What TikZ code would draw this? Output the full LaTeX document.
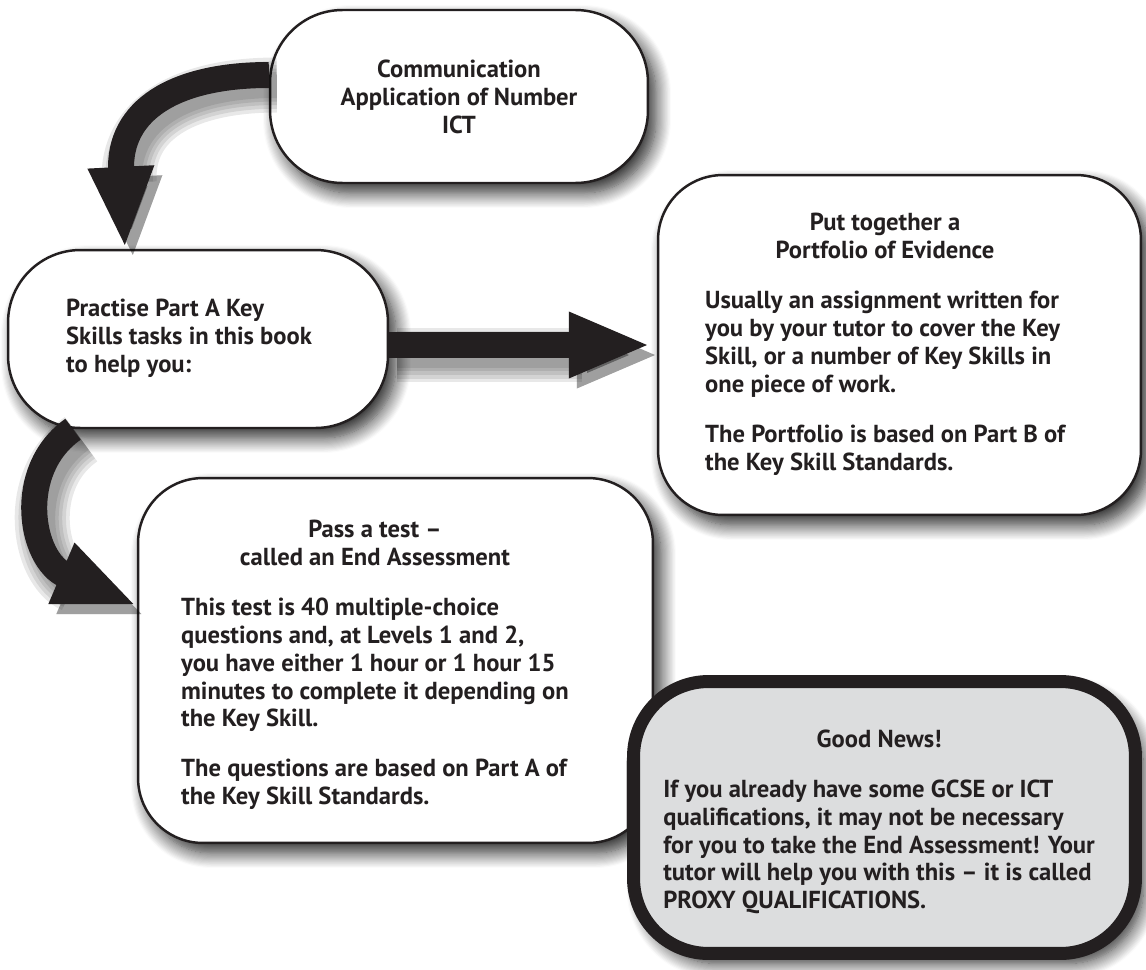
\documentclass[tikz,border=0pt]{standalone}
\usepackage{fontspec}
\setmainfont{PT Sans}
\usetikzlibrary{arrows.meta,shadows.blur}

\definecolor{ink}{HTML}{231F20}
\definecolor{newsgray}{HTML}{DCDDDE}

\newcommand{\headline}[1]{\multicolumn{1}{@{}c@{}}{#1}}

\tikzset{
  box/.style={draw=ink, line width=1.4pt, fill=white, rounded corners=1.3cm,
    blur shadow={shadow xshift=0.16cm, shadow yshift=-0.2cm,
      shadow blur radius=0.3cm, shadow opacity=85, shadow blur steps=14}},
  newsbox/.style={box, fill=newsgray, line width=0.26cm, rounded corners=1.5cm},
  txt/.style={font=\fontsize{14}{15.9}\selectfont\bfseries, text=ink, inner sep=0pt},
  fatshade/.style={preaction={draw=black, opacity=0.09, line width=#1,
      transform canvas={shift={(0.16cm,-0.2cm)}}}},
  fatarrow/.style={draw=ink, line width=0.52cm, -{Triangle[width=1.2cm,length=1.64cm]},
    fatshade=1.1cm, fatshade=0.95cm, fatshade=0.8cm, fatshade=0.66cm, fatshade=0.52cm}
}

\begin{document}
\begin{tikzpicture}[x=0.02cm, y=-0.02cm]
  \useasboundingbox (0,0) rectangle (1146,970);

  % the boxes
  \node[box, minimum width=7.56cm, minimum height=3.46cm, rounded corners=1.45cm] (comm) at (459,96.5) {};
  \node[box, minimum width=7.6cm, minimum height=3.56cm, rounded corners=1.45cm] (practise) at (198,339) {};
  \node[box, minimum width=10.3cm, minimum height=7.3cm] (test) at (395.5,660.5) {};
  \node[box, minimum width=9.66cm, minimum height=6.8cm] (portfolio) at (899.5,345) {};

  \node[txt, align=center] (commtext) at (comm) {Communication\\Application of Number\\ICT};
  \node[txt, anchor=west] (practisetext) at ([xshift=1.18cm]practise.west)
    {\begin{tabular}{@{}l@{}}
     Practise Part A Key\\
     Skills tasks in this book\\
     to help you:
     \end{tabular}};
  \node[txt, anchor=west] (testtext) at ([xshift=0.88cm,yshift=-0.1cm]test.west)
    {\begin{tabular}{@{}l@{}}
     \headline{Pass a test --}\\
     \headline{called an \textbf{End Assessment}}\\[12.5pt]
     This test is 40 multiple-choice\\
     questions and, at Levels 1 and 2,\\
     you have either 1 hour or 1 hour 15\\
     minutes to complete it depending on\\
     the Key Skill.\\[12.5pt]
     The questions are based on Part A of\\
     the Key Skill Standards.
     \end{tabular}};
  \node[txt, anchor=west] (portfoliotext) at ([xshift=0.96cm]portfolio.west)
    {\begin{tabular}{@{}l@{}}
     \headline{Put together a}\\
     \headline{\textbf{Portfolio of Evidence}}\\[12.5pt]
     Usually an assignment written for\\
     you by your tutor to cover the Key\\
     Skill, or a number of Key Skills in\\
     one piece of work.\\[12.5pt]
     The Portfolio is based on Part B of\\
     the Key Skill Standards.
     \end{tabular}};

  % the arrows
  \draw[fatarrow] ([yshift=0.43cm]comm.west) .. controls (175,75) and (118,110) .. ([xshift=-1.46cm]practise.north);
  \draw[fatarrow, shorten >=0.12cm] (practise.east |- portfolio.west) -- (portfolio.west);
  \draw[fatarrow] ([xshift=-2.5cm]practise.south) .. controls (15,470) and (30,560) .. ([yshift=1.1cm]test.west);

  % good news on top
  \node[newsbox, minimum width=10.04cm, minimum height=5.44cm] (news) at (884.5,817.5) {};
  \node[txt, anchor=west] (newstext) at ([xshift=0.72cm,yshift=-0.1cm]news.west)
    {\begin{tabular}{@{}l@{}}
     \headline{Good News!}\\[12.5pt]
     If you already have some GCSE or ICT\\
     qualifications, it may not be necessary\\
     for you to take the End Assessment! Your\\
     tutor will help you with this -- it is called\\
     \textbf{PROXY QUALIFICATIONS.}
     \end{tabular}};
\end{tikzpicture}
\end{document}
